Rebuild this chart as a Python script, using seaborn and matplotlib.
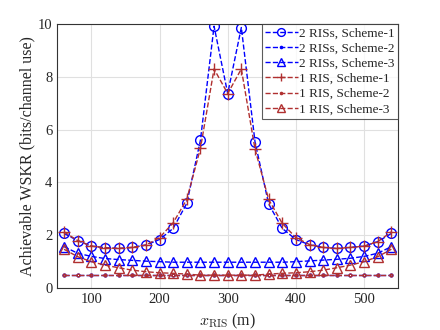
import numpy as np
import pandas as pd
import seaborn as sns
import matplotlib
matplotlib.use('Agg')
import matplotlib.pyplot as plt

# RIS position (m)
x_ris = [60, 80, 100, 120, 140, 160, 180, 200, 220, 240, 260, 280, 300,
         320, 340, 360, 380, 400, 420, 440, 460, 480, 500, 520, 540]

two_s1 = [2.07, 1.80, 1.59, 1.53, 1.50, 1.54, 1.63, 1.84, 2.26, 3.21, 5.60, 9.92, 7.37,
          9.87, 5.55, 3.19, 2.26, 1.84, 1.64, 1.54, 1.50, 1.54, 1.59, 1.76, 2.07]
two_s2 = [0.49] * 25
two_s3 = [1.57, 1.32, 1.20, 1.12, 1.08, 1.05, 1.02, 1.00, 0.98, 0.98, 0.98, 0.98, 0.98,
          0.98, 0.98, 0.98, 0.98, 1.00, 1.03, 1.06, 1.09, 1.13, 1.20, 1.32, 1.57]
one_s1 = [2.13, 1.80, 1.59, 1.53, 1.50, 1.54, 1.63, 1.91, 2.47, 3.36, 5.29, 8.30, 7.37,
          8.30, 5.27, 3.36, 2.45, 1.91, 1.65, 1.54, 1.50, 1.54, 1.59, 1.76, 2.13]
one_s2 = [0.49] * 25
one_s3 = [1.47, 1.19, 1.00, 0.87, 0.77, 0.68, 0.62, 0.58, 0.56, 0.53, 0.49, 0.49, 0.49,
          0.49, 0.49, 0.53, 0.56, 0.58, 0.62, 0.68, 0.77, 0.87, 1.00, 1.19, 1.47]

blue = '#0000FF'
red = '#B03030'

series = [
    ('2 RISs, Scheme-1', two_s1, blue, 'o', 7),
    ('2 RISs, Scheme-2', two_s2, blue, '.', 4),
    ('2 RISs, Scheme-3', two_s3, blue, '^', 7),
    ('1 RIS, Scheme-1', one_s1, red, '+', 8),
    ('1 RIS, Scheme-2', one_s2, red, '.', 4),
    ('1 RIS, Scheme-3', one_s3, red, '^', 7),
]

sns.set_style('whitegrid')
plt.rcParams['font.family'] = ['Liberation Serif', 'DejaVu Serif']
plt.rcParams['mathtext.fontset'] = 'cm'

fig = plt.figure(figsize=(4.4, 3.3), dpi=100)
ax = fig.add_axes([0.13, 0.127, 0.775, 0.8])

for name, vals, col, mk, ms in series:
    df = pd.DataFrame({'x': x_ris, 'y': vals})
    sns.lineplot(data=df, x='x', y='y', ax=ax, color=col, linestyle='--',
                 marker=mk, markersize=ms, markerfacecolor='none',
                 markeredgecolor=col, markeredgewidth=1.0, linewidth=1.0,
                 label=name)

ax.set_xlim(50, 550)
ax.set_ylim(0, 10)
ax.set_xticks([100, 200, 300, 400, 500])
ax.set_yticks([0, 2, 4, 6, 8, 10])
ax.tick_params(labelsize=10.5, direction='in', length=3, color='#333333',
               labelcolor='#262626')
ax.grid(True, color='#E0E0E0', linewidth=0.8)
for s in ax.spines.values():
    s.set_color('#333333')
    s.set_linewidth(0.8)

ax.set_xlabel(r'$x_{\rm RIS}$ (m)', fontsize=11.5, color='#262626')
ax.set_ylabel('Achievable WSKR (bits/channel use)', fontsize=11.5,
              color='#262626', labelpad=2)

leg = ax.legend(loc='upper right', fontsize=9.5, frameon=True, fancybox=False,
                borderaxespad=0, handlelength=2.5, handletextpad=0.1,
                labelspacing=0.22, borderpad=0.25, markerscale=0.8)
leg.get_frame().set_edgecolor('#333333')
leg.get_frame().set_linewidth(0.8)

fig.savefig('out.png', dpi=100)
